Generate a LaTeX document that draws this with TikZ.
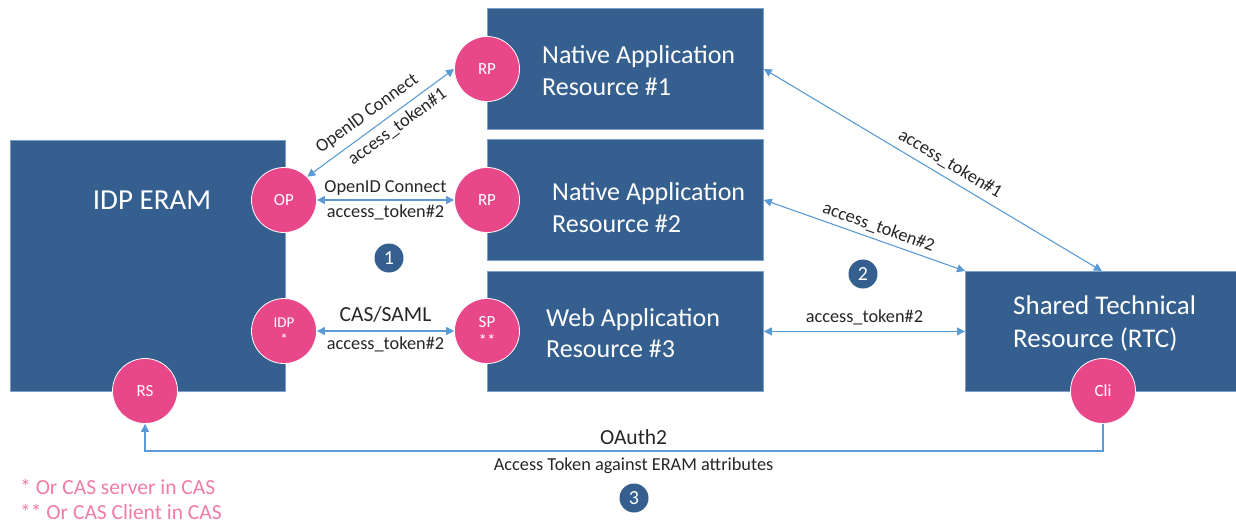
\documentclass[tikz,border=0pt]{standalone}
\usepackage{fontspec}
\setmainfont{Carlito}
\usetikzlibrary{arrows.meta,calc}
\definecolor{boxblue}{HTML}{355F8F}
\definecolor{boxedge}{HTML}{7E9FC8}
\definecolor{rolepink}{HTML}{E8478A}
\definecolor{linkblue}{HTML}{5B9BD5}
\definecolor{notepink}{HTML}{F27BA8}
\definecolor{labelgray}{HTML}{262626}

\begin{document}
\begin{tikzpicture}[x=1pt,y=-1pt,
  box/.style={draw=boxedge, line width=0.8pt, fill=boxblue, anchor=north west, inner sep=0pt},
  boxtext/.style={text=white, font=\fontsize{26}{32}\selectfont, anchor=base west, inner sep=0pt},
  role/.style={circle, fill=rolepink, draw=white, line width=0.8pt, minimum size=65pt, inner sep=0pt,
    text=white, font=\fontsize{17}{19}\selectfont, align=center},
  stepnum/.style={circle, fill=boxblue, minimum size=29pt, inner sep=0pt, text=white, font=\fontsize{20}{20}\selectfont},
  link/.style={draw=linkblue, line width=1.1pt, {Triangle[length=8pt,width=8pt]}-{Triangle[length=8pt,width=8pt]}},
  oneway/.style={draw=linkblue, line width=1.1pt, -{Triangle[length=8pt,width=8pt]}},
  lbl/.style={text=labelgray, font=\fontsize{18.3}{20}\selectfont, inner sep=0pt},
  biglbl/.style={text=labelgray, font=\fontsize{21.5}{24}\selectfont, inner sep=0pt},
  note/.style={text=notepink, font=\fontsize{21.5}{24}\selectfont, anchor=base west, inner sep=0pt},
]
\useasboundingbox (0,0) rectangle (1236,523);

% main blocks
\node[box, minimum width=275pt, minimum height=251pt] (idp) at (10,140) {};
\node[box, minimum width=276pt, minimum height=121pt] (nat1) at (487,8) {};
\node[box, minimum width=276pt, minimum height=121pt] (nat2) at (487,139) {};
\node[box, minimum width=276pt, minimum height=120pt] (web) at (487,271) {};
\node[box, minimum width=273pt, minimum height=120pt] (shared) at (965,271) {};

% block titles
\node[text=white, font=\fontsize{29}{32}\selectfont, anchor=base, inner sep=0pt] (idptitle) at (152,209) {IDP ERAM};
\node[boxtext] (nat1a) at (542,63) {Native Application};
\node[boxtext] (nat1b) at (542,95) {Resource \#1};
\node[boxtext] (nat2a) at (552,200) {Native Application};
\node[boxtext] (nat2b) at (552,232) {Resource \#2};
\node[boxtext] (weba) at (546,326) {Web Application};
\node[boxtext] (webb) at (546,357) {Resource \#3};
\node[boxtext, font=\fontsize{27}{32}\selectfont] (shareda) at (1013,314) {Shared Technical};
\node[boxtext, font=\fontsize{27}{32}\selectfont] (sharedb) at (1013,347) {Resource (RTC)};

% protocol roles
\node[role] (op) at (284,200) {OP};
\node[role] (rp1) at (487,69) {RP};
\node[role] (rp2) at (487,200) {RP};
\node[role, font=\fontsize{15}{17}\selectfont] (idprole) at (284,331) {IDP\\*};
\node[role] (sp) at (487,331) {SP\\**};
\node[role] (rs) at (145,391) {RS};
\node[role] (cli) at (1103,391) {Cli};

% step markers
\node[stepnum] (s1) at (389,258) {1};
\node[stepnum] (s2) at (863,274) {2};
\node[stepnum] (s3) at (634,498) {3};

% identity federation links
\draw[link] (op.45) -- (rp1.west)
  node[lbl, pos=0.47, sloped, above=7pt] (oidc1) {OpenID Connect}
  node[lbl, pos=0.56, sloped, below=5pt] (tok1a) {access\_token\#1};
\draw[link] (op) -- (rp2)
  node[lbl, midway, above=4pt] (oidc2) {OpenID Connect}
  node[lbl, midway, below=4pt] (tok2a) {access\_token\#2};
\draw[link] (idprole) -- (sp)
  node[biglbl, midway, above=8pt] (cassaml) {CAS/SAML}
  node[lbl, midway, below=5pt] (tok2b) {access\_token\#2};

% resource to shared service links
\draw[link] (nat1.east) -- (shared.north)
  node[lbl, pos=0.53, sloped, above=6pt] (tok1b) {access\_token\#1};
\draw[link] (nat2.east) -- (shared.north west)
  node[lbl, pos=0.55, sloped, above=4pt] (tok2c) {access\_token\#2};
\draw[link] (web.east) -- (shared.west)
  node[lbl, midway, above=6pt] (tok2d) {access\_token\#2};

% OAuth2 return path
\coordinate (oauthturn) at (145,451);
\draw[oneway] (cli.south) -- (cli.south |- oauthturn) -- (oauthturn)
  node[biglbl, pos=0.49, above=6pt] (oauth) {OAuth2}
  node[lbl, pos=0.49, below=6pt] (oauthdesc) {Access Token against ERAM attributes}
  -- (rs.south);

% footnotes
\node[note] (fn1) at (20,494) {* Or CAS server in CAS};
\node[note] (fn2) at (20,519) {** Or CAS Client in CAS};
\end{tikzpicture}
\end{document}
